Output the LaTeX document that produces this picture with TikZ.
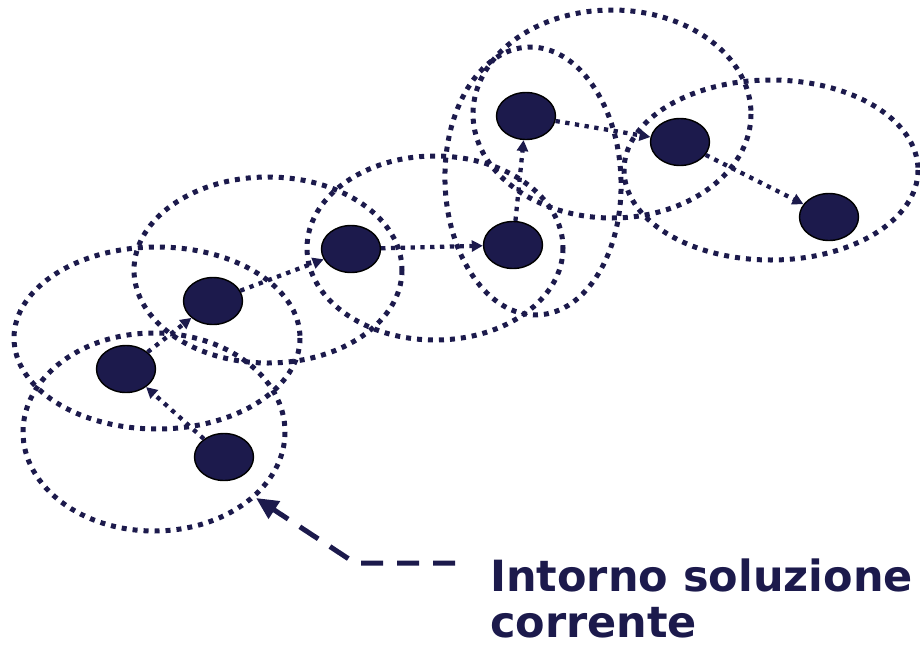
\documentclass[tikz,border=0pt]{standalone}
\usepackage{fontspec}
\setmainfont{DejaVu Sans}
\usetikzlibrary{shapes.geometric,arrows.meta}
\definecolor{navy}{HTML}{1C1A4C}
\tikzset{
  zone/.style={draw=navy, line width=5pt, dash pattern=on 5pt off 6pt},
  sol/.style={ellipse, draw=black, line width=1.4pt, fill=navy, minimum width=59pt, minimum height=47pt, inner sep=0pt},
  move/.style={draw=navy, line width=4.3pt, dash pattern=on 4.3pt off 5.5pt, -{Triangle[length=11pt,width=11pt]}, shorten >=0pt},
  pointer/.style={draw=navy, line width=5pt, dash pattern=on 22pt off 14pt, -{Triangle[length=22pt,width=20pt]}},
  label/.style={text=navy, font=\bfseries\fontsize{43}{46}\selectfont, anchor=base west, align=left, inner sep=0pt}
}
\begin{document}
\begin{tikzpicture}[x=1pt,y=-1pt]
\useasboundingbox (0,0) rectangle (920,645);
% neighbourhoods
\draw[zone] (154,432) ellipse [x radius=131, y radius=99];
\draw[zone] (157,338) ellipse [x radius=143, y radius=91];
\draw[zone] (268,270) ellipse [x radius=134, y radius=93];
\draw[zone] (435,248) ellipse [x radius=128, y radius=92];
\draw[zone] (533,181) ellipse [x radius=88, y radius=134, rotate=2];
\draw[zone] (612,114) ellipse [x radius=139, y radius=104];
\draw[zone] (771,170) ellipse [x radius=147, y radius=90];
% solutions
\node[sol] (n1) at (224,457) {};
\node[sol] (n2) at (126,369) {};
\node[sol] (n3) at (213,301) {};
\node[sol] (n4) at (351,249) {};
\node[sol] (n5) at (513,245) {};
\node[sol] (n6) at (526,116) {};
\node[sol] (n7) at (680,142) {};
\node[sol] (n8) at (829,217) {};
% moves
\draw[move] (n1) -- (n2);
\draw[move] (n2) -- (n3);
\draw[move] (n3) -- (n4);
\draw[move] (n4) -- (n5);
\draw[move] (n5) -- (n6);
\draw[move] (n6) -- (n7);
\draw[move] (n7) -- (n8);
% label and pointer
\node[label] (lab) at (490,637) {Intorno soluzione\\corrente};
\coordinate (pstart) at (455,563);
\coordinate (pcorner) at (355,563);
\coordinate (ptip) at (256,498);
\draw[pointer] (pstart) -- (pcorner) -- (ptip);
\end{tikzpicture}
\end{document}
